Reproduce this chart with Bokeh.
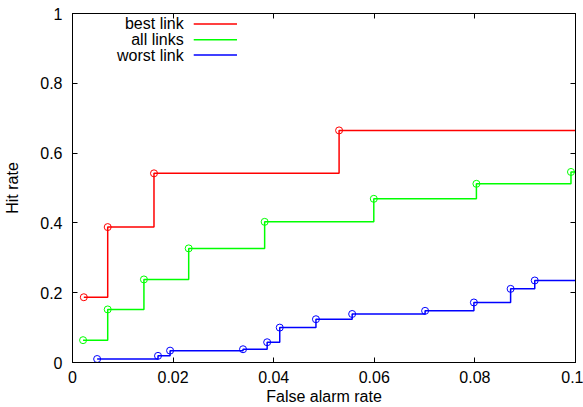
from bokeh.plotting import figure
from bokeh.models import LinearAxis, Range1d, FixedTicker, Label
from bokeh.embed import file_html
from bokeh.resources import INLINE

# ---- data ----
best_x = [0.00225, 0.0070, 0.0162, 0.0530]
best_y = [0.187, 0.388, 0.542, 0.665]

all_x = [0.0021, 0.0070, 0.0142, 0.0231, 0.0382, 0.0599, 0.0803, 0.0991]
all_y = [0.064, 0.152, 0.238, 0.327, 0.403, 0.469, 0.512, 0.546]

worst_x = [0.0049, 0.0170, 0.0194, 0.0339, 0.0387, 0.0412, 0.0484,
           0.0556, 0.0701, 0.0798, 0.0871, 0.0919]
worst_y = [0.010, 0.019, 0.034, 0.038, 0.058, 0.100, 0.124,
           0.139, 0.148, 0.172, 0.211, 0.235]

series_names = ["best link", "all links", "worst link"]
series_colors = ["#ff0000", "#00ff00", "#0000ff"]

x_ticks = [0, 0.02, 0.04, 0.06, 0.08, 0.1]
x_tick_labels = ["0", "0.02", "0.04", "0.06", "0.08", "0.1"]
y_ticks = [0, 0.2, 0.4, 0.6, 0.8, 1.0]
y_tick_labels = ["0", "0.2", "0.4", "0.6", "0.8", "1"]

X_MAX = 0.1
FONT = "Liberation Sans"
FS = "16px"

p = figure(width=583, height=407, x_range=Range1d(0, X_MAX), y_range=Range1d(0, 1),
           output_backend="svg", toolbar_location=None,
           min_border_left=72, min_border_right=8, min_border_top=13, min_border_bottom=30)
p.xgrid.visible = False
p.ygrid.visible = False
p.outline_line_color = "black"
p.outline_line_width = 1
p.background_fill_color = "white"
p.border_fill_color = "white"

def style_axis(ax, ticks, labels, show_labels=True):
    ax.ticker = FixedTicker(ticks=ticks)
    ax.major_tick_in = 5
    ax.major_tick_out = 0
    ax.minor_tick_line_color = None
    ax.axis_line_color = "black"
    ax.major_tick_line_color = "black"
    ax.axis_label_text_font = FONT
    ax.axis_label_text_font_size = FS
    ax.axis_label_text_font_style = "normal"
    ax.axis_label_text_color = "black"
    if show_labels:
        ax.major_label_overrides = {t: l for t, l in zip(ticks, labels)}
        ax.major_label_text_color = "black"
        ax.major_label_text_font = FONT
        ax.major_label_text_font_size = FS
    else:
        # mirrored tick-only axis (gnuplot style border ticks)
        ax.major_label_overrides = {t: "" for t in ticks}
        ax.major_label_text_color = None
        ax.major_label_text_font_size = "0px"
        ax.major_label_standoff = 0

xa = p.xaxis[0]
style_axis(xa, x_ticks, x_tick_labels)
xa.axis_label = "False alarm rate"
xa.major_label_standoff = 8
xa.axis_label_standoff = 2

ya = p.yaxis[0]
style_axis(ya, y_ticks, y_tick_labels)
ya.axis_label = "Hit rate"
ya.major_label_standoff = 10
ya.axis_label_standoff = 16

top = LinearAxis()
style_axis(top, x_ticks, x_tick_labels, show_labels=False)
p.add_layout(top, "above")

right = LinearAxis()
style_axis(right, y_ticks, y_tick_labels, show_labels=False)
p.add_layout(right, "right")

# ---- series ----
all_series = [(best_x, best_y), (all_x, all_y), (worst_x, worst_y)]
for (xs, ys), col in zip(all_series, series_colors):
    p.step(xs + [X_MAX], ys + [ys[-1]], mode="after", line_color=col, line_width=1.5)
    p.scatter(xs, ys, marker="circle", size=7, fill_color=None, line_color=col, line_width=1)

# ---- legend (gnuplot style: text then sample) ----
leg_text_x = 0.0221
leg_line_x0 = 0.0241
leg_line_x1 = 0.0327
leg_rows = [0.970, 0.925, 0.881]
for name, col, yy in zip(series_names, series_colors, leg_rows):
    p.add_layout(Label(x=leg_text_x, y=yy, text=name, text_align="right",
                       text_baseline="middle", text_font=FONT, text_font_size=FS,
                       text_color="black"))
    p.segment(x0=[leg_line_x0], y0=[yy], x1=[leg_line_x1], y1=[yy],
              line_color=col, line_width=1.5)

open("out.html", "w").write(file_html(p, INLINE))
